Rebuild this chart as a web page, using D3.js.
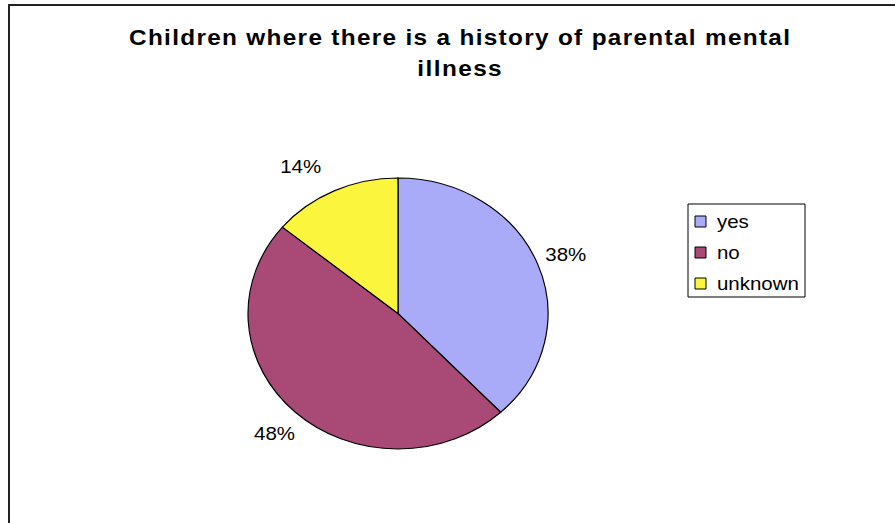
<!DOCTYPE html>
<html>
<head>
<meta charset="utf-8">
<script src="https://cdn.jsdelivr.net/npm/d3@7"></script>
<style>
  html, body { margin: 0; padding: 0; background: #fff; }
  svg { display: block; }
  text { font-family: "Liberation Sans", Arial, sans-serif; fill: #000; }
</style>
</head>
<body>
<svg id="chart" width="895" height="523"></svg>
<script>
const categories = ["yes", "no", "unknown"];
const values = [38, 48, 14];
const labels = ["38%", "48%", "14%"];
const colors = ["#a9abf9", "#a84a75", "#fbf53d"];
const titleLines = ["Children where there is a history of parental mental", "illness"];

const W = 895, H = 523;
const sx = 1.107; // horizontal stretch of the original picture
const svg = d3.select("#chart");

// frame
svg.append("rect")
  .attr("x", 9).attr("y", 5)
  .attr("width", 900).attr("height", 530)
  .attr("fill", "#fff").attr("stroke", "#222").attr("stroke-width", 2);

const g = svg.append("g").attr("transform", `scale(${sx},1)`);

// title
const titleCx = 459.5 / sx;
const titleW = (790 - 129) / sx;
const tspans = g.append("text")
  .attr("text-anchor", "middle")
  .attr("font-weight", "bold")
  .attr("font-size", 22)
  .selectAll("tspan")
  .data(titleLines)
  .join("tspan")
  .attr("x", titleCx)
  .attr("y", (d, i) => 45 + i * 31)
  .text(d => d);
const natural0 = tspans.nodes()[0].getComputedTextLength();
const stretch = titleW / natural0;
tspans.each(function () {
  const w = this.getComputedTextLength();
  d3.select(this).attr("textLength", w * stretch).attr("lengthAdjust", "spacing");
});

// pie
const cx = 398 / sx, cy = 313.5, r = 135.5;
const pie = d3.pie().sort(null).value(d => d.v);
const arcs = pie(categories.map((c, i) => ({ c, v: values[i], i })));
const arc = d3.arc().innerRadius(0).outerRadius(r);
const labelArc = d3.arc().innerRadius(163).outerRadius(163);

const pg = g.append("g").attr("transform", `translate(${cx},${cy})`);
pg.selectAll("path")
  .data(arcs)
  .join("path")
  .attr("d", arc)
  .attr("fill", d => colors[d.data.i])
  .attr("stroke", "#000")
  .attr("stroke-width", 1.2)
  .attr("vector-effect", "non-scaling-stroke");

pg.selectAll("text.lbl")
  .data(arcs)
  .join("text")
  .attr("class", "lbl")
  .attr("transform", d => `translate(${labelArc.centroid(d)})`)
  .attr("text-anchor", d => {
    const a = (d.startAngle + d.endAngle) / 2;
    if (Math.abs(Math.cos(a)) > 0.8) return Math.sin(a) < 0 ? "end" : "start";
    return "middle";
  })
  .attr("dy", "0.4em")
  .attr("font-size", 18.5)
  .text(d => labels[d.data.i]);

// legend
const lx = 688 / sx, ly = 204;
const lg = g.append("g").attr("transform", `translate(${lx},${ly})`);
lg.append("rect")
  .attr("width", (805 - 688) / sx).attr("height", 93)
  .attr("fill", "#fff").attr("stroke", "#000").attr("stroke-width", 1)
  .attr("vector-effect", "non-scaling-stroke");
const items = lg.selectAll("g.item")
  .data(categories)
  .join("g")
  .attr("class", "item")
  .attr("transform", (d, i) => `translate(0,${12 + i * 31})`);
items.append("rect")
  .attr("x", 7 / sx).attr("width", 11 / sx).attr("height", 11)
  .attr("fill", (d, i) => colors[i])
  .attr("stroke", "#000").attr("stroke-width", 1)
  .attr("vector-effect", "non-scaling-stroke");
items.append("text")
  .attr("x", 29 / sx).attr("y", 12)
  .attr("font-size", 18.5)
  .text(d => d);
</script>
</body>
</html>
